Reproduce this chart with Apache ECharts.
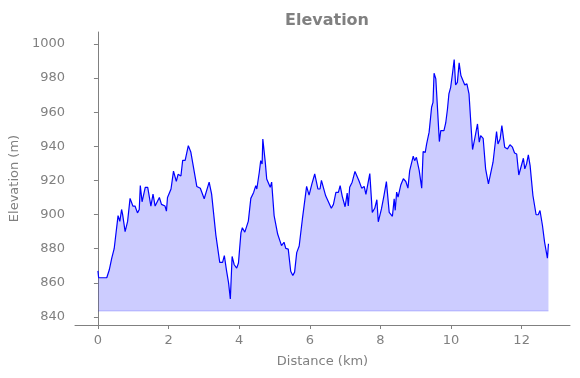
<!DOCTYPE html>
<html>
<head>
<meta charset="utf-8">
<script src="https://cdn.jsdelivr.net/npm/echarts@6/dist/echarts.min.js"></script>
<style>
  html, body { margin: 0; padding: 0; background: #fff; }
  #chart { width: 580px; height: 378px; }
</style>
</head>
<body>
<div id="chart"></div>
<script>
// 距离 (km)
const distance = [
    0, 0.02, 0.25, 0.32, 0.39, 0.46, 0.57, 0.62, 0.67, 0.70, 0.77, 0.84, 0.91, 0.99, 1.05, 1.12, 1.17, 1.20,
    1.25, 1.29, 1.34, 1.41, 1.50, 1.56, 1.62, 1.74, 1.80, 1.90, 1.94, 1.97, 2.07, 2.14, 2.22, 2.27, 2.35,
    2.40, 2.47, 2.56, 2.63, 2.68, 2.80, 2.90, 3.01, 3.06, 3.15, 3.22, 3.34, 3.45, 3.53, 3.58, 3.64, 3.70,
    3.75, 3.80, 3.86, 3.93, 3.98, 4.05, 4.09, 4.16, 4.26, 4.33, 4.41, 4.47, 4.50, 4.57, 4.61, 4.65, 4.67,
    4.74, 4.78, 4.83, 4.88, 4.92, 4.99, 5.09, 5.20, 5.27, 5.32, 5.39, 5.46, 5.52, 5.57, 5.63, 5.70, 5.79,
    5.91, 5.98, 6.06, 6.14, 6.23, 6.29, 6.33, 6.38, 6.45, 6.61, 6.67, 6.74, 6.81, 6.86, 6.92, 7.00, 7.06,
    7.09, 7.13, 7.20, 7.28, 7.33, 7.39, 7.47, 7.54, 7.59, 7.63, 7.70, 7.77, 7.84, 7.90, 7.94, 8.03, 8.10,
    8.17, 8.25, 8.34, 8.39, 8.42, 8.46, 8.50, 8.58, 8.65, 8.72, 8.78, 8.83, 8.88, 8.93, 8.97, 9.02, 9.10,
    9.17, 9.21, 9.27, 9.31, 9.38, 9.45, 9.49, 9.52, 9.57, 9.61, 9.67, 9.71, 9.76, 9.80, 9.85, 9.90, 9.94,
    9.99, 10.04, 10.09, 10.13, 10.18, 10.23, 10.28, 10.32, 10.39, 10.45, 10.51, 10.56, 10.61, 10.67, 10.75,
    10.80, 10.84, 10.91, 10.98, 11.06, 11.12, 11.19, 11.24, 11.29, 11.33, 11.39, 11.44, 11.46, 11.52, 11.60,
    11.67, 11.74, 11.80, 11.86, 11.92, 11.97, 12.05, 12.09, 12.14, 12.19, 12.24, 12.32, 12.41, 12.47, 12.52,
    12.59, 12.65, 12.73, 12.76
];

// 海拔 (m)
const elevation = [
    867, 863, 863, 867.5, 874.4, 880, 899.4, 896, 903, 900, 890, 896, 909.5, 905, 905, 901, 903, 917,
    907.5, 908.6, 916, 916, 905, 912, 905, 910, 906, 905, 902, 910, 915, 925.5, 919.5, 923.6, 922.6,
    931.8, 931.8, 940.4, 936.7, 936.7, 916.5, 915.4, 909.3, 910, 919, 912, 888, 872, 872, 876, 867.5, 860,
    850.6, 875.5, 870.6, 868.6, 871.6, 889.3, 892.3, 889.7, 896.2, 909.5, 913, 917, 915, 924.8, 931.6, 929.6, 944.3,
    930.6, 920.9, 920.9, 916, 919, 899.4, 888.6, 881.8, 883.8, 880.2, 879.8, 866.8, 864.3, 866.3, 877.7, 881.6, 897.3,
    916.5, 911.4, 918, 923.8, 915, 915, 920, 920.5, 911, 903.7, 906, 913, 913, 917, 910.7, 904.6, 912.6,
    905, 916, 919, 925.3, 925.9, 920, 915.5, 916.5, 911.8, 912.8, 924, 901.3, 903.7, 908.7, 895.8, 903.3, 911,
    919.3, 901.3, 899, 909.2, 902.5, 913.2, 910.3, 917.5, 921, 919.4, 915.5, 925.8, 925.8, 934.2, 931.6, 933.6, 925.8,
    915.5, 936.9, 936.5, 941.4, 948.3, 962.9, 965.8, 982.8, 979.5, 964.9, 942.8, 949.2, 950.2, 949.2, 953.7, 961.9, 970.7,
    974.6, 982.4, 990.8, 976, 977.5, 988.9, 981.5, 982.4, 976, 976.6, 970.7, 954.1, 938.1, 944.3, 953.1,
    942.4, 946.3, 944.7, 926.8, 918, 923.9, 930.7, 930.3, 948.7, 941.4, 944.3, 952.1, 952.1, 939.5, 938.5,
    940.9, 939.5, 936.1, 935.5, 923.2, 923.2, 933, 926.8, 929.7, 935, 928.7, 911.2, 899.9, 899.9, 902.4,
    893.6, 883.9, 874.5, 882.9
];

// 刻度
const xTicks = [0, 2, 4, 6, 8, 10, 12];
const yTicks = [840, 860, 880, 900, 920, 940, 960, 980, 1000];
const fillBase = 843.5;

function initElevationChart() {
    const chart = echarts.init(document.getElementById('chart'));
    const points = distance.map((d, i) => [d, elevation[i]]);
    const basePoints = [[distance[0], fillBase], [distance[distance.length - 1], fillBase]];
    const gray = '#808080';
    const font = 'DejaVu Sans';

    chart.setOption({
        animation: false,
        backgroundColor: '#fff',
        title: {
            text: 'Elevation',
            left: 322,
            textAlign: 'center',
            top: 8,
            textStyle: { color: gray, fontSize: 16, fontWeight: 'bold', fontFamily: font }
        },
        grid: { left: 74, right: 10, top: 32, bottom: 53 },
        xAxis: {
            type: 'value',
            min: -0.65,
            max: 13.37,
            name: 'Distance (km)',
            nameLocation: 'middle',
            nameGap: 30,
            nameTextStyle: { color: gray, fontSize: 13, fontFamily: font },
            axisLine: { show: true, lineStyle: { color: gray, width: 1 } },
            axisTick: { show: true, length: 4, customValues: xTicks, lineStyle: { color: gray } },
            axisLabel: { color: gray, fontSize: 13, fontFamily: font, margin: 9, customValues: xTicks },
            splitLine: { show: false }
        },
        yAxis: {
            type: 'value',
            min: 835.3,
            max: 1007,
            name: 'Elevation (m)',
            nameLocation: 'middle',
            nameGap: 49,
            nameTextStyle: { color: gray, fontSize: 13, fontFamily: font },
            axisLine: { show: true, lineStyle: { color: gray, width: 1 } },
            axisTick: { show: true, length: 4, customValues: yTicks, lineStyle: { color: gray } },
            axisLabel: {
                color: gray, fontSize: 13, fontFamily: font, margin: 10, customValues: yTicks,
                formatter: v => String(v)
            },
            splitLine: { show: false }
        },
        series: [
            {
                type: 'line',
                data: points,
                symbol: 'none',
                lineStyle: { color: '#0000ff', width: 1.2 },
                areaStyle: { color: 'rgba(0,0,255,0.2)', origin: fillBase, opacity: 1 },
                z: 3
            },
            {
                type: 'line',
                data: basePoints,
                symbol: 'none',
                lineStyle: { color: 'rgba(0,0,255,0.2)', width: 1 },
                silent: true,
                z: 2
            }
        ]
    });
}

document.addEventListener('DOMContentLoaded', () => {
    initElevationChart();
});
</script>
</body>
</html>
